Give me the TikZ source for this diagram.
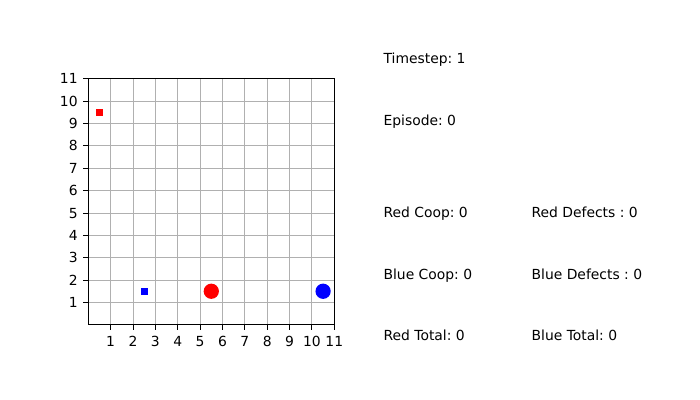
\documentclass[tikz,border=0pt]{standalone}
\usepackage{fontspec}
\setmainfont{DejaVu Sans}
\usetikzlibrary{positioning}
\frenchspacing

\definecolor{gridgray}{HTML}{B0B0B0}
\definecolor{agentred}{HTML}{FF0000}
\definecolor{agentblue}{HTML}{0000FF}

\begin{document}
\begin{tikzpicture}[
			x=0.72pt,
			y=-0.72pt,
			gridline/.style={draw=gridgray, line width=0.7pt},
			spine/.style={draw=black, line width=0.8pt},
			tickmark/.style={draw=black, line width=0.7pt},
			ticklabel/.style={
				inner sep=0pt,
				text height=7.3pt,
				text depth=0pt,
				font=\fontsize{10}{12}\selectfont
			},
			infotext/.style={
				inner sep=0pt,
				anchor=base west,
				font=\fontsize{10}{12}\selectfont
			},
			agent/.style={circle, inner sep=0pt, minimum size=11pt},
			apple/.style={rectangle, inner sep=0pt, minimum size=4.8pt}
			]
			
			\useasboundingbox (0,0) rectangle (700,400);
			
			%--------------------------------------------------
			% Grid world
			%--------------------------------------------------
			
			\begin{scope}[shift={(88.3,324.8)}, x=16.1pt, y=16.1pt]
			
			\draw[gridline, step=16.1pt] (0,0) grid (11,11);
			
			\draw[spine] (0,0) rectangle (11,11);
			
			\foreach \k in {1,...,11} {
				\draw[tickmark] (\k,0) -- ([yshift=-3.5pt]\k,0);
				\node[ticklabel, anchor=north] (xtick\k) at ([yshift=-8.1pt]\k,0) {\k};
				\draw[tickmark] (0,\k) -- ([xshift=-3.5pt]0,\k);
				\node[ticklabel, anchor=east] (ytick\k) at ([xshift=-7.5pt]0,\k) {\k};
			}
			
			\node[apple, fill=agentred] (redapple) at (0.5,9.5) {};
			
			\node[apple, fill=agentblue] (blueapple) at (2.5,1.5) {};
			
			\node[agent, fill=agentred] (redagent) at (5.5,1.5) {};
			
			\node[agent, fill=agentblue] (blueagent) at (10.5,1.5) {};
			
			\end{scope}
			
			%--------------------------------------------------
			% Counters
			%--------------------------------------------------
			
			\node[infotext] (timestep) at (383.3,63.5) {Timestep: 1};
			
			\node[infotext] (episode) at (383.3,125.5) {Episode: 0};
			
			\node[infotext] (redcoop) at (383.3,217.5) {Red Coop: 0};
			
			\node[infotext] (bluecoop) at (383.3,279.5) {Blue Coop: 0};
			
			\node[infotext] (redtotal) at (383.3,340.5) {Red Total: 0};
			
			\node[infotext] (reddefects) at ([xshift=106.6pt]redcoop.base west) {Red Defects : 0};
			
			\node[infotext] (bluedefects) at ([xshift=106.6pt]bluecoop.base west) {Blue Defects : 0};
			
			\node[infotext] (bluetotal) at ([xshift=106.6pt]redtotal.base west) {Blue Total: 0};
			
		\end{tikzpicture}
\end{document}
